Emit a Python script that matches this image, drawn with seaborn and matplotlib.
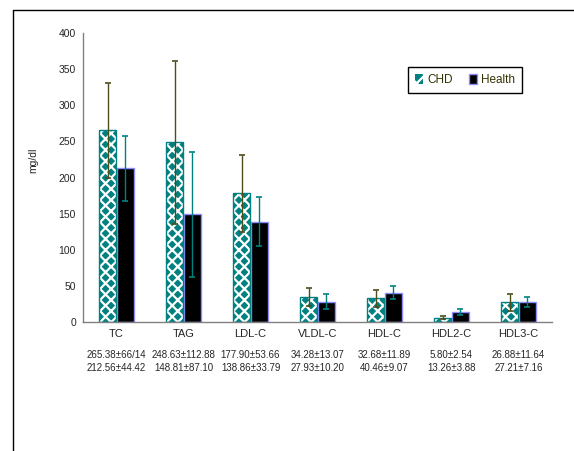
import matplotlib
matplotlib.use('Agg')
import numpy as np
import pandas as pd
import seaborn as sns
import matplotlib.pyplot as plt
from matplotlib.patches import Patch, Rectangle
from matplotlib.lines import Line2D
from matplotlib.transforms import blended_transform_factory

#### Data ####
lipids = ['TC', 'TAG', 'LDL-C', 'VLDL-C', 'HDL-C', 'HDL2-C', 'HDL3-C']
chd_mean = [265.38, 248.63, 177.90, 34.28, 32.68, 5.80, 26.88]
chd_sd = [66.14, 112.88, 53.66, 13.07, 11.89, 2.54, 11.64]
health_mean = [212.56, 148.81, 138.86, 27.93, 40.46, 13.26, 27.21]
health_sd = [44.42, 87.10, 33.79, 10.20, 9.07, 3.88, 7.16]
chd_labels = ['265.38±66/14', '248.63±112.88', '177.90±53.66', '34.28±13.07',
              '32.68±11.89', '5.80±2.54', '26.88±11.64']
health_labels = ['212.56±44.42', '148.81±87.10', '138.86±33.79', '27.93±10.20',
                 '40.46±9.07', '13.26±3.88', '27.21±7.16']
groups = ['CHD', 'Health']
y_ticks = [0, 50, 100, 150, 200, 250, 300, 350, 400]

TEAL = '#008080'
OLIVE = '#4d4d1a'
LAVENDER = '#8c8cff'

df = pd.DataFrame({
    'lipid': lipids * 2,
    'value': chd_mean + health_mean,
    'group': ['CHD'] * len(lipids) + ['Health'] * len(lipids),
})

sns.set_style('white')
plt.rcParams['font.family'] = ['Liberation Sans', 'DejaVu Sans']
plt.rcParams['hatch.linewidth'] = 1.6

fig = plt.figure(figsize=(5.74, 4.51), dpi=100)
ax = fig.add_axes([0.1446, 0.2867, 0.8171, 0.6393])

sns.barplot(data=df, x='lipid', y='value', hue='group', order=lipids, hue_order=groups,
            width=0.53, gap=0.06, errorbar=None, ax=ax, legend=False)

# style the bars and add error bars (copy list first: errorbar adds containers)
bar_containers = list(ax.containers)
err_specs = [(chd_sd, OLIVE), (health_sd, TEAL)]
for k, container in enumerate(bar_containers):
    xs = []
    for bar in container:
        xs.append(bar.get_x() + bar.get_width() / 2)
        if k == 0:
            bar.set_facecolor(TEAL)
            bar.set_edgecolor('white')
            bar.set_hatch('xxx')
            bar.set_linewidth(0)
            ax.add_patch(Rectangle((bar.get_x(), 0), bar.get_width(), bar.get_height(),
                                   fill=False, edgecolor=TEAL, linewidth=1, zorder=bar.get_zorder() + 0.1))
        else:
            bar.set_facecolor('black')
            bar.set_edgecolor(LAVENDER)
            bar.set_linewidth(1)
    means = chd_mean if k == 0 else health_mean
    sds, col = err_specs[k]
    ax.errorbar(xs, means, yerr=sds, fmt='none', ecolor=col, elinewidth=1,
                capsize=2, capthick=1.2, zorder=5)

ax.set_xlim(-0.5, len(lipids) - 0.5)
ax.set_ylim(0, 400)
ax.set_yticks(y_ticks)
ax.set_xlabel('')
ax.set_ylabel('mg/dl', fontsize=7.5)
ax.yaxis.set_label_coords(-0.095, 0.56)

for side in ['top', 'right']:
    ax.spines[side].set_visible(False)
for side in ['left', 'bottom']:
    ax.spines[side].set_color('#808080')
    ax.spines[side].set_linewidth(1)

ax.tick_params(axis='y', which='major', direction='out', length=3, width=1,
               color='#808080', labelsize=7.5, pad=2)
ax.tick_params(axis='x', which='major', length=0, labelsize=8, pad=5)
ax.set_xticks(np.arange(-0.5, len(lipids)), minor=True)
ax.tick_params(axis='x', which='minor', direction='out', length=4, width=1, color='#808080')

# stats rows under the categories
trans = blended_transform_factory(ax.transData, fig.transFigure)
for i in range(len(lipids)):
    ax.text(i, 1 - 355 / 451, chd_labels[i], transform=trans, ha='center', va='center', fontsize=7)
    ax.text(i, 1 - 368 / 451, health_labels[i], transform=trans, ha='center', va='center', fontsize=7)

handles = [Patch(facecolor=TEAL, edgecolor='white', hatch='xx', linewidth=0),
           Patch(facecolor='black', edgecolor=LAVENDER, linewidth=1)]
leg = ax.legend(handles=handles, labels=groups, ncol=2, loc='upper left',
                bbox_to_anchor=(0.693, 0.883), borderaxespad=0, frameon=True, fancybox=False,
                edgecolor='black', framealpha=1, fontsize=8.5, handlelength=0.7,
                handleheight=0.9, handletextpad=0.35, columnspacing=1.35, borderpad=0.6)
leg.get_frame().set_linewidth(1)
for t in leg.get_texts():
    t.set_color('#333300')

# outer frame of the figure
fig.add_artist(Line2D([0.0226, 0.0226], [0, 0.978], color='black', lw=1))
fig.add_artist(Line2D([0.0226, 1], [0.978, 0.978], color='black', lw=1))

fig.savefig('out.png', dpi=100)
